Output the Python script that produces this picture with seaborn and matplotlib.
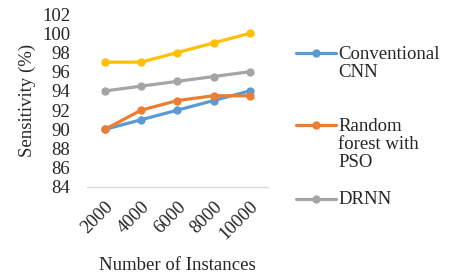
import matplotlib
matplotlib.use('Agg')
import matplotlib.pyplot as plt
import pandas as pd
import seaborn as sns
from matplotlib.lines import Line2D

# Data
instances = ['2000', '4000', '6000', '8000', '10000']
conventional_cnn = [90, 91, 92, 93, 94]
random_forest_pso = [90, 92, 93, 93.5, 93.5]
drnn = [94, 94.5, 95, 95.5, 96]
top_series = [97, 97, 98, 99, 100]

series_names = ['Conventional\nCNN', 'Random\nforest with\nPSO', 'DRNN', 'Proposed']
series_values = [conventional_cnn, random_forest_pso, drnn, top_series]
colors = ['#5B9BD5', '#ED7D31', '#A5A5A5', '#FFC000']

sns.set_theme(style='white')
plt.rcParams['font.family'] = ['Liberation Serif', 'DejaVu Serif']

fs = 13.5
fig = plt.figure(figsize=(4.57, 2.77), dpi=100)
ax = fig.add_axes([0.190, 0.325, 0.396, 0.624])

# Draw in reverse so blue/orange end up on top like the original
order = [3, 2, 0, 1]
for i in order:
    df = pd.DataFrame({'instances': instances, 'value': series_values[i]})
    sns.lineplot(data=df, x='instances', y='value', ax=ax, color=colors[i],
                 linewidth=2.3, marker='o', markersize=6, markeredgewidth=0,
                 sort=False, legend=False)

ax.set_ylim(84, 102)
ax.set_yticks(range(84, 103, 2))
ax.set_xlim(-0.5, len(instances) - 0.5)
ax.set_xticks(range(len(instances)))
ax.set_xticklabels(instances, rotation=45, ha='right', va='top', rotation_mode='anchor')
ax.tick_params(axis='both', labelsize=fs, length=0)
ax.tick_params(axis='y', pad=12)
ax.tick_params(axis='x', pad=8)

for side in ['top', 'right', 'left']:
    ax.spines[side].set_visible(False)
ax.spines['bottom'].set_color('#D9D9D9')
ax.spines['bottom'].set_linewidth(1)

ax.set_xlabel('Number of Instances', fontsize=fs, labelpad=10)
ax.set_ylabel('Sensitivity (%)', fontsize=fs, labelpad=4)

# Legend entries, only the first three series appear in the original
legend_tops = [0.835, 0.575, 0.31]
for i in range(3):
    h = Line2D([], [], color=colors[i], linewidth=2.3, marker='o', markersize=6, markeredgewidth=0)
    leg = fig.legend([h], [series_names[i]], loc='upper left',
                     bbox_to_anchor=(0.648, legend_tops[i]), frameon=False,
                     fontsize=fs, handlelength=2.1, handletextpad=0.15,
                     handleheight=1.0, borderaxespad=0, borderpad=0)
    for t in leg.get_texts():
        t.set_linespacing(1.1)
    # keep the marker next to the first line of the label
    for col in leg._legend_handle_box.get_children():
        for item in col.get_children():
            item.align = 'top'

fig.savefig('out.png', dpi=100)
